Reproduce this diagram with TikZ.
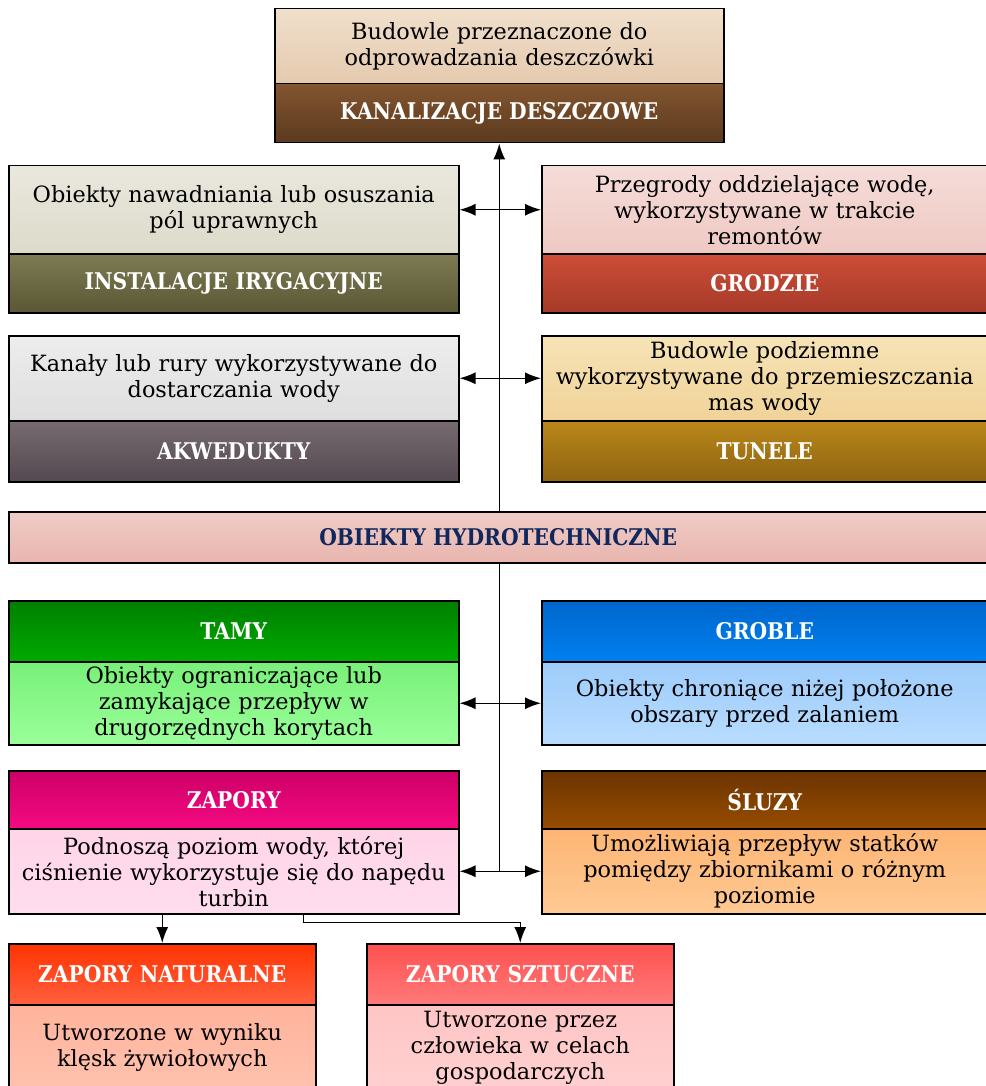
\documentclass[tikz,border=0pt]{standalone}
\usepackage{fontspec}
\setmainfont{DejaVu Serif}
\newfontfamily\hdfont{DejaVu Serif}[FakeStretch=0.88]
\usetikzlibrary{arrows.meta}

\definecolor{kanT1}{HTML}{F0DFCC}\definecolor{kanT2}{HTML}{E5CAAE}
\definecolor{kanH1}{HTML}{835530}\definecolor{kanH2}{HTML}{5B3A1E}
\definecolor{irT1}{HTML}{EAE8DD}\definecolor{irT2}{HTML}{DCDACA}
\definecolor{irH1}{HTML}{7D7B52}\definecolor{irH2}{HTML}{5A5835}
\definecolor{grT1}{HTML}{F5DCD8}\definecolor{grT2}{HTML}{EFC9C3}
\definecolor{grH1}{HTML}{CD4E38}\definecolor{grH2}{HTML}{A53A28}
\definecolor{akT1}{HTML}{EEEDEE}\definecolor{akT2}{HTML}{DFDEDF}
\definecolor{akH1}{HTML}{776B71}\definecolor{akH2}{HTML}{544950}
\definecolor{tuT1}{HTML}{F6E3B6}\definecolor{tuT2}{HTML}{F0D398}
\definecolor{tuH1}{HTML}{BA871A}\definecolor{tuH2}{HTML}{8E6412}
\definecolor{ob1}{HTML}{F0CCC6}\definecolor{ob2}{HTML}{E8B5AE}
\definecolor{obtxt}{HTML}{10285E}
\definecolor{tamH1}{HTML}{007F00}\definecolor{tamH2}{HTML}{00AA00}
\definecolor{tamT1}{HTML}{78F078}\definecolor{tamT2}{HTML}{9AFF9A}
\definecolor{grobH1}{HTML}{0066CC}\definecolor{grobH2}{HTML}{0080F0}
\definecolor{grobT1}{HTML}{9ECCFA}\definecolor{grobT2}{HTML}{B8DCFF}
\definecolor{zapH1}{HTML}{CC0066}\definecolor{zapH2}{HTML}{F50A82}
\definecolor{zapT1}{HTML}{FFD5E8}\definecolor{zapT2}{HTML}{FFDDEE}
\definecolor{sluH1}{HTML}{6B3400}\definecolor{sluH2}{HTML}{974C00}
\definecolor{sluT1}{HTML}{FDB574}\definecolor{sluT2}{HTML}{FFC993}
\definecolor{natH1}{HTML}{FF3300}\definecolor{natH2}{HTML}{FF6040}
\definecolor{natT1}{HTML}{FFB39C}\definecolor{natT2}{HTML}{FFC2AE}
\definecolor{sztH1}{HTML}{FF5050}\definecolor{sztH2}{HTML}{FF7A7A}
\definecolor{sztT1}{HTML}{FFC5C5}\definecolor{sztT2}{HTML}{FFD0D0}

\begin{document}
\begin{tikzpicture}[x=1pt,y=-1pt,>={Latex[length=16pt,width=12pt]},line width=1.4pt,
  box/.style={draw,line width=1.5pt,anchor=north west,inner sep=0pt,align=center},
  txt/.style={box,font=\fontsize{22.4}{26}\selectfont},
  hd/.style={box,font=\hdfont\fontsize{23}{26}\selectfont\bfseries,text=white},
  lcol/.style={minimum width=450pt,text width=444pt},
  rcol/.style={minimum width=446pt,text width=440pt},
  dcol/.style={minimum width=307pt,text width=301pt}]
\useasboundingbox (0,0) rectangle (985,1086);
% top
\node[txt,minimum width=449pt,text width=443pt,minimum height=75pt,top color=kanT1,bottom color=kanT2] (kanTxt) at (274,8) {Budowle przeznaczone do\\odprowadzania deszczówki};
\node[hd,minimum width=449pt,minimum height=59pt,top color=kanH1,bottom color=kanH2] (kanHd) at (274,83) {KANALIZACJE DESZCZOWE};
% row 1
\node[txt,lcol,minimum height=88pt,top color=irT1,bottom color=irT2] (irTxt) at (8,165) {Obiekty nawadniania lub osuszania\\pól uprawnych};
\node[hd,lcol,minimum height=59pt,top color=irH1,bottom color=irH2] (irHd) at (8,253) {INSTALACJE IRYGACYJNE};
\node[txt,rcol,minimum height=88pt,top color=grT1,bottom color=grT2] (grTxt) at (541,165) {Przegrody oddzielające wodę,\\wykorzystywane w trakcie\\remontów};
\node[hd,rcol,minimum height=59pt,top color=grH1,bottom color=grH2] (grHd) at (541,253) {GRODZIE};
% row 2
\node[txt,lcol,minimum height=85pt,top color=akT1,bottom color=akT2] (akTxt) at (8,335) {Kanały lub rury wykorzystywane do\\dostarczania wody};
\node[hd,lcol,minimum height=61pt,top color=akH1,bottom color=akH2] (akHd) at (8,420) {AKWEDUKTY};
\node[txt,rcol,minimum height=85pt,top color=tuT1,bottom color=tuT2] (tuTxt) at (541,335) {Budowle podziemne\\wykorzystywane do przemieszczania\\mas wody};
\node[hd,rcol,minimum height=61pt,top color=tuH1,bottom color=tuH2] (tuHd) at (541,420) {TUNELE};
% centre
\node[hd,minimum width=979pt,minimum height=51pt,top color=ob1,bottom color=ob2,text=obtxt] (obiekty) at (8,511) {OBIEKTY HYDROTECHNICZNE};
% row 3
\node[hd,lcol,minimum height=61pt,top color=tamH1,bottom color=tamH2] (tamHd) at (8,600) {TAMY};
\node[txt,lcol,minimum height=83pt,top color=tamT1,bottom color=tamT2] (tamTxt) at (8,661) {Obiekty ograniczające lub\\zamykające przepływ w\\drugorzędnych korytach};
\node[hd,rcol,minimum height=61pt,top color=grobH1,bottom color=grobH2] (grobHd) at (541,600) {GROBLE};
\node[txt,rcol,minimum height=83pt,top color=grobT1,bottom color=grobT2] (grobTxt) at (541,661) {Obiekty chroniące niżej położone\\obszary przed zalaniem};
% row 4
\node[hd,lcol,minimum height=58pt,top color=zapH1,bottom color=zapH2] (zapHd) at (8,770) {ZAPORY};
\node[txt,lcol,minimum height=85pt,top color=zapT1,bottom color=zapT2] (zapTxt) at (8,828) {Podnoszą poziom wody, której\\ciśnienie wykorzystuje się do napędu\\turbin};
\node[hd,rcol,minimum height=58pt,top color=sluH1,bottom color=sluH2] (sluHd) at (541,770) {ŚLUZY};
\node[txt,rcol,minimum height=85pt,top color=sluT1,bottom color=sluT2] (sluTxt) at (541,828) {Umożliwiają przepływ statków\\pomiędzy zbiornikami o różnym\\poziomie};
% bottom
\node[hd,dcol,minimum height=61pt,top color=natH1,bottom color=natH2] (natHd) at (8,943) {ZAPORY NATURALNE};
\node[txt,dcol,minimum height=86pt,top color=natT1,bottom color=natT2] (natTxt) at (8,1004) {Utworzone w wyniku\\klęsk żywiołowych};
\node[hd,dcol,minimum height=61pt,top color=sztH1,bottom color=sztH2] (sztHd) at (366,943) {ZAPORY SZTUCZNE};
\node[txt,dcol,minimum height=86pt,top color=sztT1,bottom color=sztT2] (sztTxt) at (366,1004) {Utworzone przez\\człowieka w celach\\gospodarczych};
% connectors
\draw[->] (obiekty.north -| kanHd.south) -- (kanHd.south);
\draw (obiekty.south -| kanHd.south) -- (kanHd.south |- zapTxt.east);
\draw[<->] (irTxt.east) -- (grTxt.west);
\draw[<->] (akTxt.east) -- (tuTxt.west);
\draw[<->] (tamTxt.east) -- (grobTxt.west);
\draw[<->] (zapTxt.east) -- (sluTxt.west);
\draw[->] (zapTxt.south -| natHd.north) -- (natHd.north);
\draw[->] ([xshift=70pt]zapTxt.south) -- ++(0,8) -| (sztHd.north);
\end{tikzpicture}
\end{document}
